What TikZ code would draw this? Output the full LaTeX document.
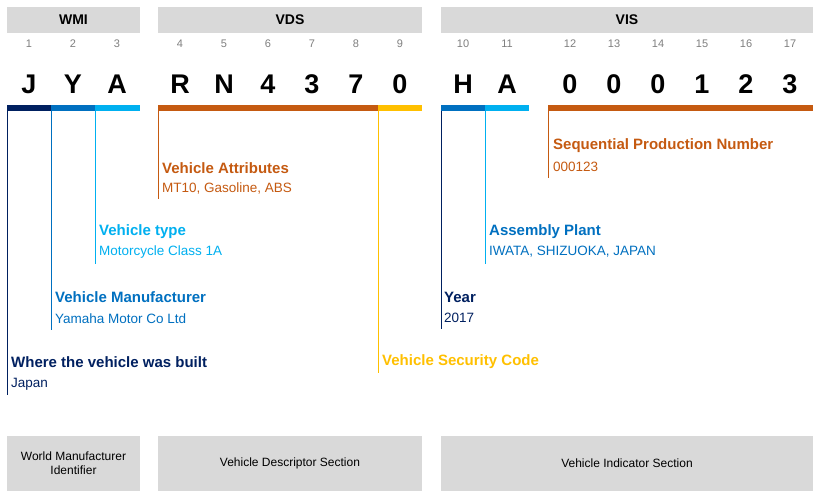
\documentclass[tikz,border=0pt]{standalone}
\usepackage{fontspec}
\setmainfont{Liberation Sans}
\definecolor{cnavy}{HTML}{002060}
\definecolor{cblue}{HTML}{0070C0}
\definecolor{clight}{HTML}{00B0F0}
\definecolor{corange}{HTML}{C55A11}
\definecolor{cyellow}{HTML}{FFC000}
\definecolor{cgray}{HTML}{D9D9D9}
\definecolor{cnum}{HTML}{7F7F7F}
\begin{document}
\begin{tikzpicture}[x=1pt,y=-1pt,
  hdr/.style={fill=cgray,draw=none},
  hdrtxt/.style={font=\fontsize{14}{16}\selectfont\bfseries},
  num/.style={font=\fontsize{11}{13}\selectfont,text=cnum},
  big/.style={font=\fontsize{27}{30}\selectfont\bfseries},
  ttl/.style={anchor=west,inner sep=0,font=\fontsize{15}{18}\selectfont\bfseries},
  sub/.style={anchor=west,inner sep=0,font=\fontsize{13.5}{16}\selectfont},
  bar/.style={line width=6pt},
  vl/.style={line width=0.8pt}]
\useasboundingbox (0,0) rectangle (820,500);
\fill[white] (0,0) rectangle (820,500);
% headers
\fill[hdr] (7,7) rectangle (140,33); \node[hdrtxt] (hw) at (73.5,20) {WMI};
\fill[hdr] (158,7) rectangle (422,33); \node[hdrtxt] (hd) at (290,20) {VDS};
\fill[hdr] (441,7) rectangle (813,33); \node[hdrtxt] (hi) at (627,20) {VIS};
% numbers and letters
\foreach \x/\n/\c in {29/1/J,73/2/Y,117/3/A,180/4/R,224/5/N,268/6/4,312/7/3,356/8/7,400/9/0,463/10/H,507/11/A,570/12/0,614/13/0,658/14/0,702/15/1,746/16/2,790/17/3}{
  \node[num] (n\n) at (\x,44) {\n};
  \node[big] (c\n) at (\x,84) {\c};
}
% bars
\draw[bar,cnavy] (7,108) -- (51,108);
\draw[bar,cblue] (51,108) -- (95,108);
\draw[bar,clight] (95,108) -- (140,108);
\draw[bar,corange] (158,108) -- (378,108);
\draw[bar,cyellow] (378,108) -- (422,108);
\draw[bar,cblue] (441,108) -- (485,108);
\draw[bar,clight] (485,108) -- (529,108);
\draw[bar,corange] (548,108) -- (813,108);
% vertical lines
\draw[vl,cnavy] (7.5,111) -- (7.5,395);
\draw[vl,cblue] (51.5,111) -- (51.5,330);
\draw[vl,clight] (95.5,111) -- (95.5,264);
\draw[vl,corange] (158.5,111) -- (158.5,199);
\draw[vl,cyellow] (378.5,111) -- (378.5,373);
\draw[vl,cnavy] (441.5,111) -- (441.5,329);
\draw[vl,clight] (485.5,111) -- (485.5,264);
\draw[vl,corange] (548.5,111) -- (548.5,178);
% labels
\node[ttl,text=corange] (t1) at (162,168) {Vehicle Attributes};
\node[sub,text=corange] (s1) at (162,188) {MT10, Gasoline, ABS};
\node[ttl,text=clight] (t2) at (99,232) {Vehicle type};
\node[sub,text=clight] (s2) at (99,252) {Motorcycle Class 1A};
\node[ttl,text=cblue] (t3) at (55,297) {Vehicle Manufacturer};
\node[sub,text=cblue] (s3) at (55,319) {Yamaha Motor Co Ltd};
\node[ttl,text=cnavy] (t4) at (11,362) {Where the vehicle was built};
\node[sub,text=cnavy] (s4) at (11,384) {Japan};
\node[ttl,text=cyellow] (t5) at (382,362) {Vehicle Security Code};
\node[ttl,text=cnavy] (t6) at (444,297) {Year};
\node[sub,text=cnavy] (s6) at (444,318) {2017};
\node[ttl,text=cblue] (t7) at (489,232) {Assembly Plant};
\node[sub,text=cblue] (s7) at (489,252) {IWATA, SHIZUOKA, JAPAN};
\node[ttl,text=corange] (t8) at (553,146) {Sequential Production Number};
\node[sub,text=corange] (s8) at (553,167) {000123};
% bottom boxes
\fill[hdr] (7,436) rectangle (140,491);
\node[align=center,font=\fontsize{12}{14}\selectfont] (b1) at (73.5,463) {World Manufacturer\\Identifier};
\fill[hdr] (158,436) rectangle (422,491);
\node[font=\fontsize{12}{14}\selectfont] (b2) at (290,463) {Vehicle Descriptor Section};
\fill[hdr] (441,436) rectangle (813,491);
\node[font=\fontsize{12}{14}\selectfont] (b3) at (627,463) {Vehicle Indicator Section};
\end{tikzpicture}
\end{document}
